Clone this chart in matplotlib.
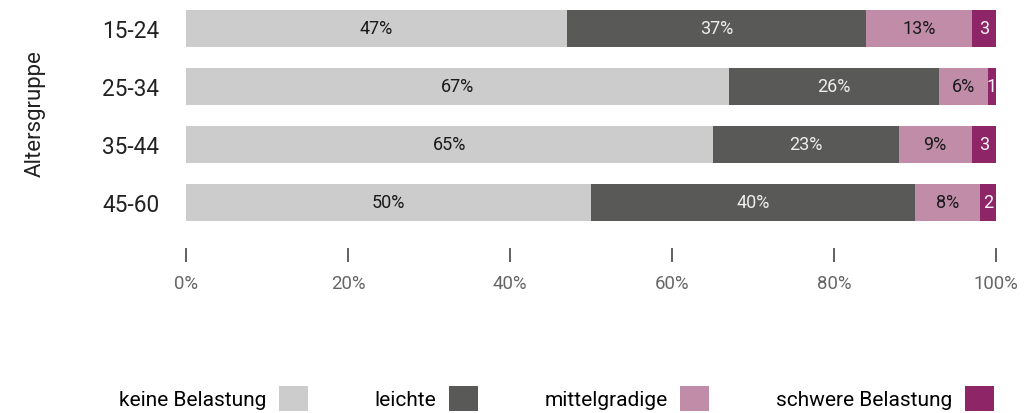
import numpy as np
import matplotlib.pyplot as plt
from matplotlib.patches import Patch

plt.rcParams['font.family'] = ['Roboto', 'DejaVu Sans']

# Belastung nach Altersgruppe (Anteile in %)
gruppen = ['15-24', '25-34', '35-44', '45-60']
kategorien = ['keine Belastung', 'leichte', 'mittelgradige', 'schwere Belastung']
keine = [47, 67, 65, 50]
leichte = [37, 26, 23, 40]
mittel = [13, 6, 9, 8]
schwer = [3, 1, 3, 2]

farben = ['#cccccc', '#595957', '#c08ca8', '#8e2566']
textfarben = ['#1a1a1a', '#eeeeee', '#1a1a1a', '#f5f5f5']

fig = plt.figure(figsize=(10.36, 4.14), dpi=100)
ax = fig.add_axes([186 / 1036, 1 - 232.3 / 414, 810 / 1036, 232 / 414])

# Achse zuerst verschieben, sonst werden die Tick-Einstellungen zurückgesetzt
ax.spines['bottom'].set_position(('outward', 12))

y = np.arange(len(gruppen))
links = np.zeros(len(gruppen))
for i, werte in enumerate([keine, leichte, mittel, schwer]):
    werte = np.array(werte, dtype=float)
    bars = ax.barh(y, werte, left=links, height=0.63, color=farben[i], label=kategorien[i])
    fmt = '{:.0f}' if i == 3 else '{:.0f}%'
    ax.bar_label(bars, labels=[fmt.format(v) for v in werte], label_type='center',
                 color=textfarben[i], fontsize=13)
    links += werte

ax.set_xlim(0, 100)
ax.set_ylim(-0.5, len(gruppen) - 0.5)
ax.invert_yaxis()

ax.set_yticks(y)
ax.set_yticklabels(gruppen, fontsize=16.3, color='#222222')
ax.tick_params(axis='y', length=0, pad=19)

ax.set_xticks([0, 20, 40, 60, 80, 100])
ax.set_xticklabels(['0%', '20%', '40%', '60%', '80%', '100%'], fontsize=13.4, color='#666666')
ax.tick_params(axis='x', length=10, width=1.3, color='#555555', pad=9, direction='out')

for s in ax.spines.values():
    s.set_visible(False)

ax.set_ylabel('Altersgruppe', fontsize=16, color='#222222')
ax.yaxis.set_label_coords(-0.173, 0.51)

handles = [Patch(facecolor=c, edgecolor='none') for c in farben]
fig.legend(handles, kategorien, loc='center', bbox_to_anchor=(0.537, 0.035),
           ncol=4, frameon=False, markerfirst=False, fontsize=15,
           handlelength=1.4, handleheight=1.4, handletextpad=0.6,
           columnspacing=3.2)

fig.savefig('out.png', dpi=100)
